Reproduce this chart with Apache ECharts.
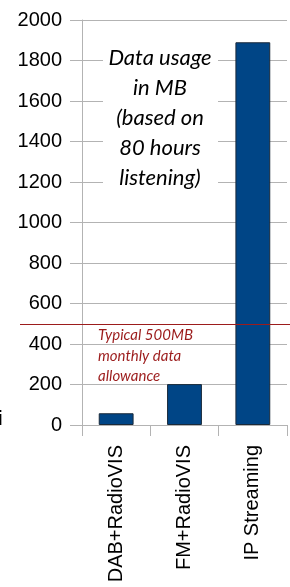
<!DOCTYPE html>
<html>
<head>
<meta charset="utf-8">
<script src="https://cdn.jsdelivr.net/npm/echarts@6/dist/echarts.min.js"></script>
<style>
  html, body { margin: 0; padding: 0; background: #fff; }
  #chart { width: 290px; height: 587px; }
</style>
</head>
<body>
<div id="chart"></div>
<script>
// data
var categories = ['DAB+RadioVIS', 'FM+RadioVIS', 'IP Streaming'];
var usageMB = [58, 202, 1890];
var allowanceMB = 500;
var yTicks = [0, 200, 400, 600, 800, 1000, 1200, 1400, 1600, 1800, 2000];

var chart = echarts.init(document.getElementById('chart'));

chart.setOption({
  animation: false,
  grid: { left: 82, right: 3, top: 20, bottom: 162, outerBoundsMode: 'none', containLabel: false },
  xAxis: {
    type: 'category',
    data: categories,
    boundaryGap: true,
    axisLine: { lineStyle: { color: '#b3b3b3', width: 1 } },
    axisTick: { show: true, length: 11, lineStyle: { color: '#b3b3b3' } },
    axisLabel: {
      rotate: 90,
      margin: 20,
      color: '#000',
      fontFamily: '"Liberation Sans", Arial, sans-serif',
      fontSize: 20
    }
  },
  yAxis: {
    type: 'value',
    min: yTicks[0],
    max: yTicks[yTicks.length - 1],
    interval: 200,
    axisLine: { show: true, lineStyle: { color: '#b3b3b3', width: 1 } },
    axisTick: { show: true, length: 12, lineStyle: { color: '#b3b3b3' } },
    splitLine: { lineStyle: { color: '#b3b3b3', width: 1 } },
    axisLabel: {
      margin: 20,
      color: '#000',
      fontFamily: '"Liberation Sans", Arial, sans-serif',
      fontSize: 20,
      formatter: function (v) { return String(v); }
    }
  },
  series: [{
    type: 'bar',
    data: usageMB,
    barWidth: '51%',
    itemStyle: { color: '#004586', borderColor: '#1a2a3a', borderWidth: 1 },
    markLine: {
      silent: true,
      symbol: 'none',
      label: { show: false },
      lineStyle: { color: '#9c1c1c', width: 1, type: 'solid' },
      data: [[
        { xAxis: 0, yAxis: allowanceMB, x: 20 },
        { xAxis: 2, yAxis: allowanceMB, x: 290 }
      ]]
    }
  }],
  graphic: [
    {
      type: 'rect', z: 100,
      shape: { x: 103, y: 44, width: 115, height: 152 },
      style: { fill: '#fff' }
    },
    {
      type: 'text', z: 101,
      x: 160, y: 43,
      style: {
        text: 'Data usage\nin MB\n(based on\n80 hours\nlistening)',
        align: 'center',
        fill: '#000',
        font: 'italic 22px Lato',
        lineHeight: 30
      }
    },
    {
      type: 'text', z: 101,
      x: 98, y: 325,
      style: {
        text: 'Typical 500MB\nmonthly data\nallowance',
        fill: '#9c1c1c',
        font: 'italic 15px Lato',
        lineHeight: 20.5
      }
    },
    {
      type: 'text', z: 101,
      x: -3, y: 409,
      style: { text: 'i', fill: '#000', font: 'bold 21px "Liberation Sans"' }
    }
  ]
});
</script>
</body>
</html>
